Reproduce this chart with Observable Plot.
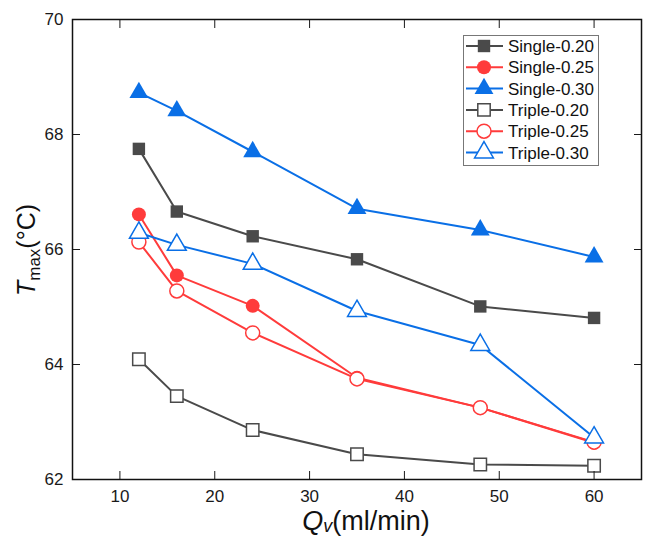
<!DOCTYPE html>
<html>
<head>
<meta charset="utf-8">
<script src="https://cdn.jsdelivr.net/npm/d3@7"></script>
<script src="https://cdn.jsdelivr.net/npm/@observablehq/plot@0.6"></script>
<style>
  html, body { margin: 0; padding: 0; background: #fff; }
  #wrap { position: relative; width: 650px; height: 543px; font-family: "Liberation Sans", Arial, sans-serif; }
  #legend { position: absolute; left: 463px; top: 35px; }
</style>
</head>
<body>
<div id="wrap"></div>
<script>
// ---- data ----
const qv = [12, 16, 24, 35, 48, 60];
const single020 = [67.75, 66.66, 66.23, 65.83, 65.01, 64.81];
const single025 = [66.61, 65.55, 65.02, 63.77, 63.25, 62.64];
const single030 = [68.73, 68.41, 67.70, 66.71, 66.34, 65.87];
const triple020 = [64.09, 63.45, 62.86, 62.44, 62.26, 62.24];
const triple025 = [66.13, 65.28, 64.55, 63.75, 63.25, 62.65];
const triple030 = [66.29, 66.08, 65.75, 64.93, 64.34, 62.73];
const xTicks = [10, 20, 30, 40, 50, 60];
const yTicks = [62, 64, 66, 68, 70];

const GRAY = "#4a4a4a", RED = "#ff3b3b", BLUE = "#0a6fe6";
const series = [
  {name: "Single-0.20", values: single020, color: GRAY, symbol: "square", filled: true},
  {name: "Single-0.25", values: single025, color: RED, symbol: "circle", filled: true},
  {name: "Single-0.30", values: single030, color: BLUE, symbol: "triangle", filled: true},
  {name: "Triple-0.20", values: triple020, color: GRAY, symbol: "square", filled: false},
  {name: "Triple-0.25", values: triple025, color: RED, symbol: "circle", filled: false},
  {name: "Triple-0.30", values: triple030, color: BLUE, symbol: "triangle", filled: false}
];
const rows = s => qv.map((q, i) => ({q, t: s.values[i]}));

const marks = [];
for (const s of series) {
  marks.push(Plot.line(rows(s), {x: "q", y: "t", stroke: s.color, strokeWidth: 2}));
}
for (const s of series) {
  marks.push(Plot.dot(rows(s), {
    x: "q", y: "t", symbol: s.symbol, r: 7,
    fill: s.filled ? s.color : "white",
    stroke: s.color, strokeWidth: s.filled ? 0 : 1.5
  }));
}

const chart = Plot.plot({
  width: 650, height: 543,
  marginLeft: 72, marginRight: 9, marginTop: 19, marginBottom: 64,
  style: {fontFamily: "'Liberation Sans', Arial, sans-serif", fontSize: "17px", color: "#1a1a1a", background: "white", overflow: "visible"},
  x: {domain: [5, 65]},
  y: {domain: [62, 70]},
  marks: [
    ...marks,
    Plot.axisX({anchor: "bottom", ticks: xTicks, tickSize: -8, tickPadding: 18, label: null, fontSize: 17}),
    Plot.axisX({anchor: "top", ticks: xTicks, tickSize: -8, tickFormat: () => "", label: null}),
    Plot.axisY({anchor: "left", ticks: yTicks, tickSize: -8, tickPadding: 17, label: null, fontSize: 17}),
    Plot.axisY({anchor: "right", ticks: yTicks, tickSize: -8, tickFormat: () => "", label: null}),
    Plot.frame({stroke: "#111", strokeWidth: 1.5})
  ]
});
document.getElementById("wrap").appendChild(chart);

// ---- axis titles with italics and subscripts ----
const svg = d3.select(chart);
const xt = svg.append("text")
  .attr("x", 366).attr("y", 530)
  .attr("text-anchor", "middle")
  .attr("font-size", 27).attr("fill", "#111");
xt.append("tspan").attr("font-style", "italic").text("Q");
xt.append("tspan").attr("font-style", "italic").attr("font-size", 18).attr("dy", 2).text("v");
xt.append("tspan").attr("dy", -2).text("(ml/min)");

const yt = svg.append("text")
  .attr("transform", "translate(35,250) rotate(-90)")
  .attr("text-anchor", "middle")
  .attr("font-size", 25).attr("fill", "#111");
yt.append("tspan").attr("font-style", "italic").text("T");
yt.append("tspan").attr("font-size", 17).attr("dy", 5).text("max");
yt.append("tspan").attr("dy", -5).text("(°C)");

// ---- legend ----
const lg = d3.select("#wrap").append("svg")
  .attr("id", "legend").attr("width", 136).attr("height", 131);
lg.append("rect").attr("x", 0.5).attr("y", 0.5).attr("width", 135).attr("height", 130)
  .attr("fill", "white").attr("stroke", "#777").attr("stroke-width", 1);
const symMap = {square: d3.symbolSquare, circle: d3.symbolCircle, triangle: d3.symbolTriangle};
series.forEach((s, i) => {
  const cy = 11 + i * 21.3;
  const g = lg.append("g").attr("transform", `translate(0,${cy})`);
  g.append("line").attr("x1", 3).attr("x2", 40).attr("y1", 0).attr("y2", 0)
    .attr("stroke", s.color).attr("stroke-width", 2);
  g.append("path").attr("transform", "translate(21,0)")
    .attr("d", d3.symbol(symMap[s.symbol], Math.PI * 49)())
    .attr("fill", s.filled ? s.color : "white")
    .attr("stroke", s.filled ? "none" : s.color).attr("stroke-width", 1.5);
  g.append("text").attr("x", 45).attr("y", 0).attr("dy", "0.36em")
    .attr("font-size", 17).attr("fill", "#111")
    .attr("font-family", "'Liberation Sans', Arial, sans-serif")
    .text(s.name);
});
</script>
</body>
</html>
